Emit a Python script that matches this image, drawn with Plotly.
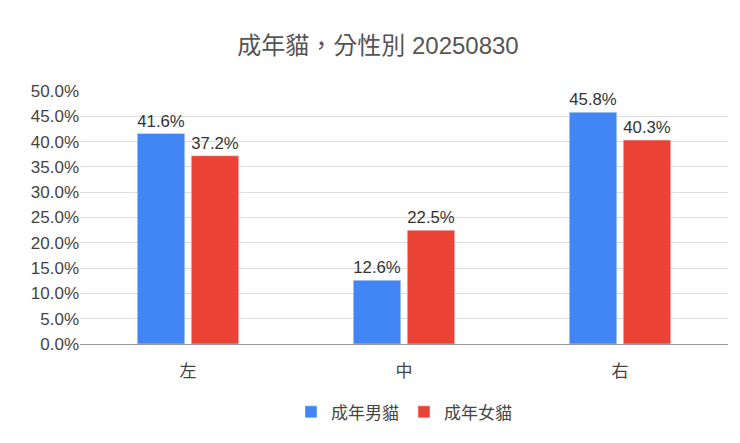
import plotly.graph_objects as go

categories = ["左", "中", "右"]
male = [41.6, 12.6, 45.8]
female = [37.2, 22.5, 40.3]
tick_vals = [0, 5, 10, 15, 20, 25, 30, 35, 40, 45, 50]
tick_text = [f"{v:.1f}%" for v in tick_vals]

font = "Arial, 'Liberation Sans', 'Noto Sans CJK TC', sans-serif"
fig = go.Figure()
for name, vals, color in [("成年男貓", male, "#4285F4"), ("成年女貓", female, "#EA4335")]:
    fig.add_trace(go.Bar(x=categories, y=vals, name=name, marker_color=color,
                         text=[f"{v:.1f}%" for v in vals], textposition="outside",
                         textfont=dict(size=17, color="#333"), cliponaxis=False))
fig.update_layout(
    width=740, height=443, paper_bgcolor="white", plot_bgcolor="white",
    font=dict(family=font, color="#444"),
    title=dict(text="成年貓，分性別 20250830", x=0.5, xanchor="center", y=0.915, yanchor="middle",
               font=dict(size=24, color="#555")),
    margin=dict(l=72, r=20, t=83, b=107),
    barmode="group", bargap=0.5, bargroupgap=0.12,
    legend=dict(orientation="h", x=0.5, xanchor="center", y=-0.27, yanchor="middle",
                font=dict(size=17)),
    xaxis=dict(tickfont=dict(size=17), showline=True, linecolor="#999", ticks="",
               ticklabelstandoff=12),
    yaxis=dict(range=[0, 50], tickvals=tick_vals, ticktext=tick_text, tickfont=dict(size=17),
               gridcolor="#ddd", zeroline=False),
)
fig.write_html("out.html")
